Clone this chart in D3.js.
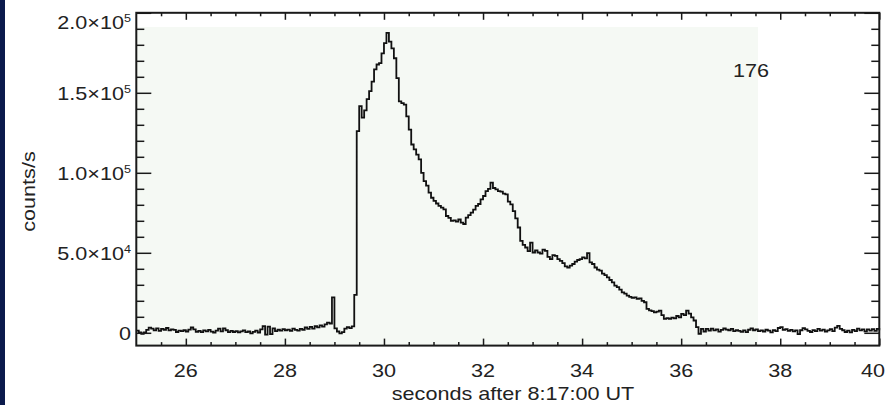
<!DOCTYPE html>
<html><head><meta charset="utf-8">
<script src="https://cdn.jsdelivr.net/npm/d3@7"></script>
<style>
html,body{margin:0;padding:0;background:#fff;}
svg{display:block;}
text{font-family:"Liberation Sans",Arial,Helvetica,sans-serif;fill:#222;}
</style></head><body>
<svg id="chart" width="886" height="405"></svg>
<script>
// counts/s per 0.05 s bin, one array per second (t = 25.00 ... 25.95, etc.)
const c25 = [1400,200,-600,300,1800,3200,2600,1500,2800,1200, 2400,1900,3000,1500,2200,1800,500,1300,1000,1600];
const c26 = [800,2000,3300,2100,600,1200,400,1500,900,1800, 700,200,1400,2600,900,2800,1600,400,1200,500];
const c27 = [1100,300,900,1500,400,800,-300,600,1300,200, 2200,4200,-1200,3800,-800,2800,1000,1900,1300,2300];
const c28 = [1600,2000,1200,2600,1800,1400,2400,1900,3300,2500, 3700,2600,4100,3400,4600,3800,5300,6300,5800,22200];
const c29 = [2800,800,-300,400,2600,3600,2900,4000,23700,126000, 141700,134500,139000,146000,151000,157000,164600,167700,168500,174700];
const c30 = [181000,187500,182000,177800,171600,159200,144700,143500,142600,135300, 127000,117700,114600,111400,108400,100000,94800,92000,87600,84400];
const c31 = [82400,80800,79300,78200,77200,73000,71800,69900,70300,69500, 70800,68900,68000,72000,73500,75100,77000,79300,80500,83400];
const c32 = [85500,88600,90000,93800,90500,89700,88600,88200,87000,86500, 82000,80300,76000,71500,65800,57500,55000,53300,51000,56400];
const c33 = [50200,51500,50200,49500,52000,51200,47500,46100,48500,48100, 46000,45000,43500,41500,40800,42000,43000,44500,45500,46100];
const c34 = [47100,46500,49800,44000,43000,40800,39500,38800,37000,36000, 34600,33000,31500,29500,28500,27000,25300,24500,23200,22400];
const c35 = [21800,22200,21200,21500,20000,19100,14900,14000,13500,12800, 13200,13900,11000,8700,9200,8700,9500,9000,10500,9700];
const c36 = [11800,11000,13900,12000,9700,7700,3500,-600,2500,800, 2400,1300,2600,1500,2200,700,1800,2700,2000,1600];
const c37 = [2400,1000,1700,1200,600,1500,400,1900,2800,1600, 2200,1100,1500,800,1900,1300,300,1700,1100,3000];
const c38 = [3600,1800,2300,1200,1800,900,1500,-800,1600,2900, 2100,1200,500,1700,1000,2500,1400,2000,800,1500];
const c39 = [2300,1100,3200,4300,2400,1600,500,1300,300,1800, 1000,2600,1500,2200,900,2100,1400,2300,1200,2400];
const c40 = [1600];
const tStart = 25, binWidth = 0.05;

const xMajorTicks = [26, 28, 30, 32, 34, 36, 38, 40];
const xTickLabels = ["26", "28", "30", "32", "34", "36", "38", "40"];
const yMajorTicks = [0, 50000, 100000, 150000, 200000];
const yTickMantissa = ["0", "5.0×10", "1.0×10", "1.5×10", "2.0×10"];
const yTickExponent = ["", "4", "5", "5", "5"];
const xTitle = "seconds after 8:17:00 UT";
const yTitle = "counts/s";
const annotation = "176";

const counts = [].concat(c25, c26, c27, c28, c29, c30, c31, c32, c33, c34, c35, c36, c37, c38, c39, c40);
const series = counts.map((v, i) => ({ t: tStart + i * binWidth, v }));

const W = 886, H = 405;
const P = { left: 136.3, right: 879.3, top: 12.8, bottom: 345.6 };
const x = d3.scaleLinear().domain([25, 40]).range([P.left, P.right]);
const y = d3.scaleLinear().domain([-8000, 200000]).range([P.bottom, P.top]);

const svg = d3.select("#chart");
svg.append("rect").attr("width", W).attr("height", H).attr("fill", "#ffffff");
svg.append("rect").attr("x", 0).attr("y", 0).attr("width", 5).attr("height", H).attr("fill", "#0b1a4c");

// faint tinted plot area
svg.append("rect").attr("x", P.left).attr("y", 27).attr("width", 758 - P.left).attr("height", P.bottom - 27)
  .attr("fill", "#f5f9f4");

// data line
const line = d3.line().x(d => x(d.t)).y(d => y(d.v)).curve(d3.curveStepAfter);
svg.append("path").datum(series).attr("d", line).attr("fill", "none")
  .attr("stroke", "#111").attr("stroke-width", 1.8).attr("stroke-linejoin", "miter");

// ticks
const xMinor = d3.range(25.5, 40, 0.5).filter(v => !xMajorTicks.includes(v));
const yMinor = d3.range(0, 200001, 10000).filter(v => !yMajorTicks.includes(v));
function axisG(axis, tx, ty) {
  const g = svg.append("g").attr("transform", `translate(${tx},${ty})`).call(axis);
  g.select(".domain").remove();
  g.selectAll("text").remove();
  g.selectAll("line").attr("stroke", "#1a1a1a").attr("stroke-width", 1.5);
  return g;
}
axisG(d3.axisBottom(x).tickValues(xMajorTicks).tickSize(-7).tickFormat(""), 0, P.bottom);
axisG(d3.axisBottom(x).tickValues(xMinor).tickSize(-3.5).tickFormat(""), 0, P.bottom);
axisG(d3.axisTop(x).tickValues(xMajorTicks).tickSize(-7).tickFormat(""), 0, P.top);
axisG(d3.axisTop(x).tickValues(xMinor).tickSize(-3.5).tickFormat(""), 0, P.top);
axisG(d3.axisLeft(y).tickValues(yMajorTicks).tickSize(-15).tickFormat(""), P.left, 0);
axisG(d3.axisLeft(y).tickValues(yMinor).tickSize(-8).tickFormat(""), P.left, 0);
axisG(d3.axisRight(y).tickValues(yMajorTicks).tickSize(-15).tickFormat(""), P.right, 0);
axisG(d3.axisRight(y).tickValues(yMinor).tickSize(-8).tickFormat(""), P.right, 0);

// frame
svg.append("rect").attr("x", P.left).attr("y", P.top).attr("width", P.right - P.left).attr("height", P.bottom - P.top)
  .attr("fill", "none").attr("stroke", "#1a1a1a").attr("stroke-width", 2);

const SX = 1.2;
function txt(px, py, anchor, size, rot) {
  return svg.append("text")
    .attr("transform", `translate(${px},${py})` + (rot ? ` rotate(${rot})` : "") + ` scale(${SX},1)`)
    .attr("text-anchor", anchor).style("font-size", size + "px");
}

// x tick labels (the last one kept inside the picture)
xMajorTicks.forEach((v, i) => {
  const cx = x(v);
  if (cx + 12 > W - 1) txt(W - 1, 376.7, "end", 18).text(xTickLabels[i]);
  else txt(cx, 376.7, "middle", 18).text(xTickLabels[i]);
});

// y tick labels
yMajorTicks.forEach((v, i) => {
  const by = Math.max(y(v) + 7.5, 29);
  const t = txt(131, by, "end", 18);
  t.append("tspan").text(yTickMantissa[i]);
  if (yTickExponent[i]) t.append("tspan").attr("dy", -7.5).style("font-size", "10.5px").text(yTickExponent[i]);
});

// titles
txt(513, 400, "middle", 18).text(xTitle);
txt(35, 191.5, "middle", 18, -90).text(yTitle);
txt(751, 77, "middle", 18).text(annotation);
</script>
</body></html>
